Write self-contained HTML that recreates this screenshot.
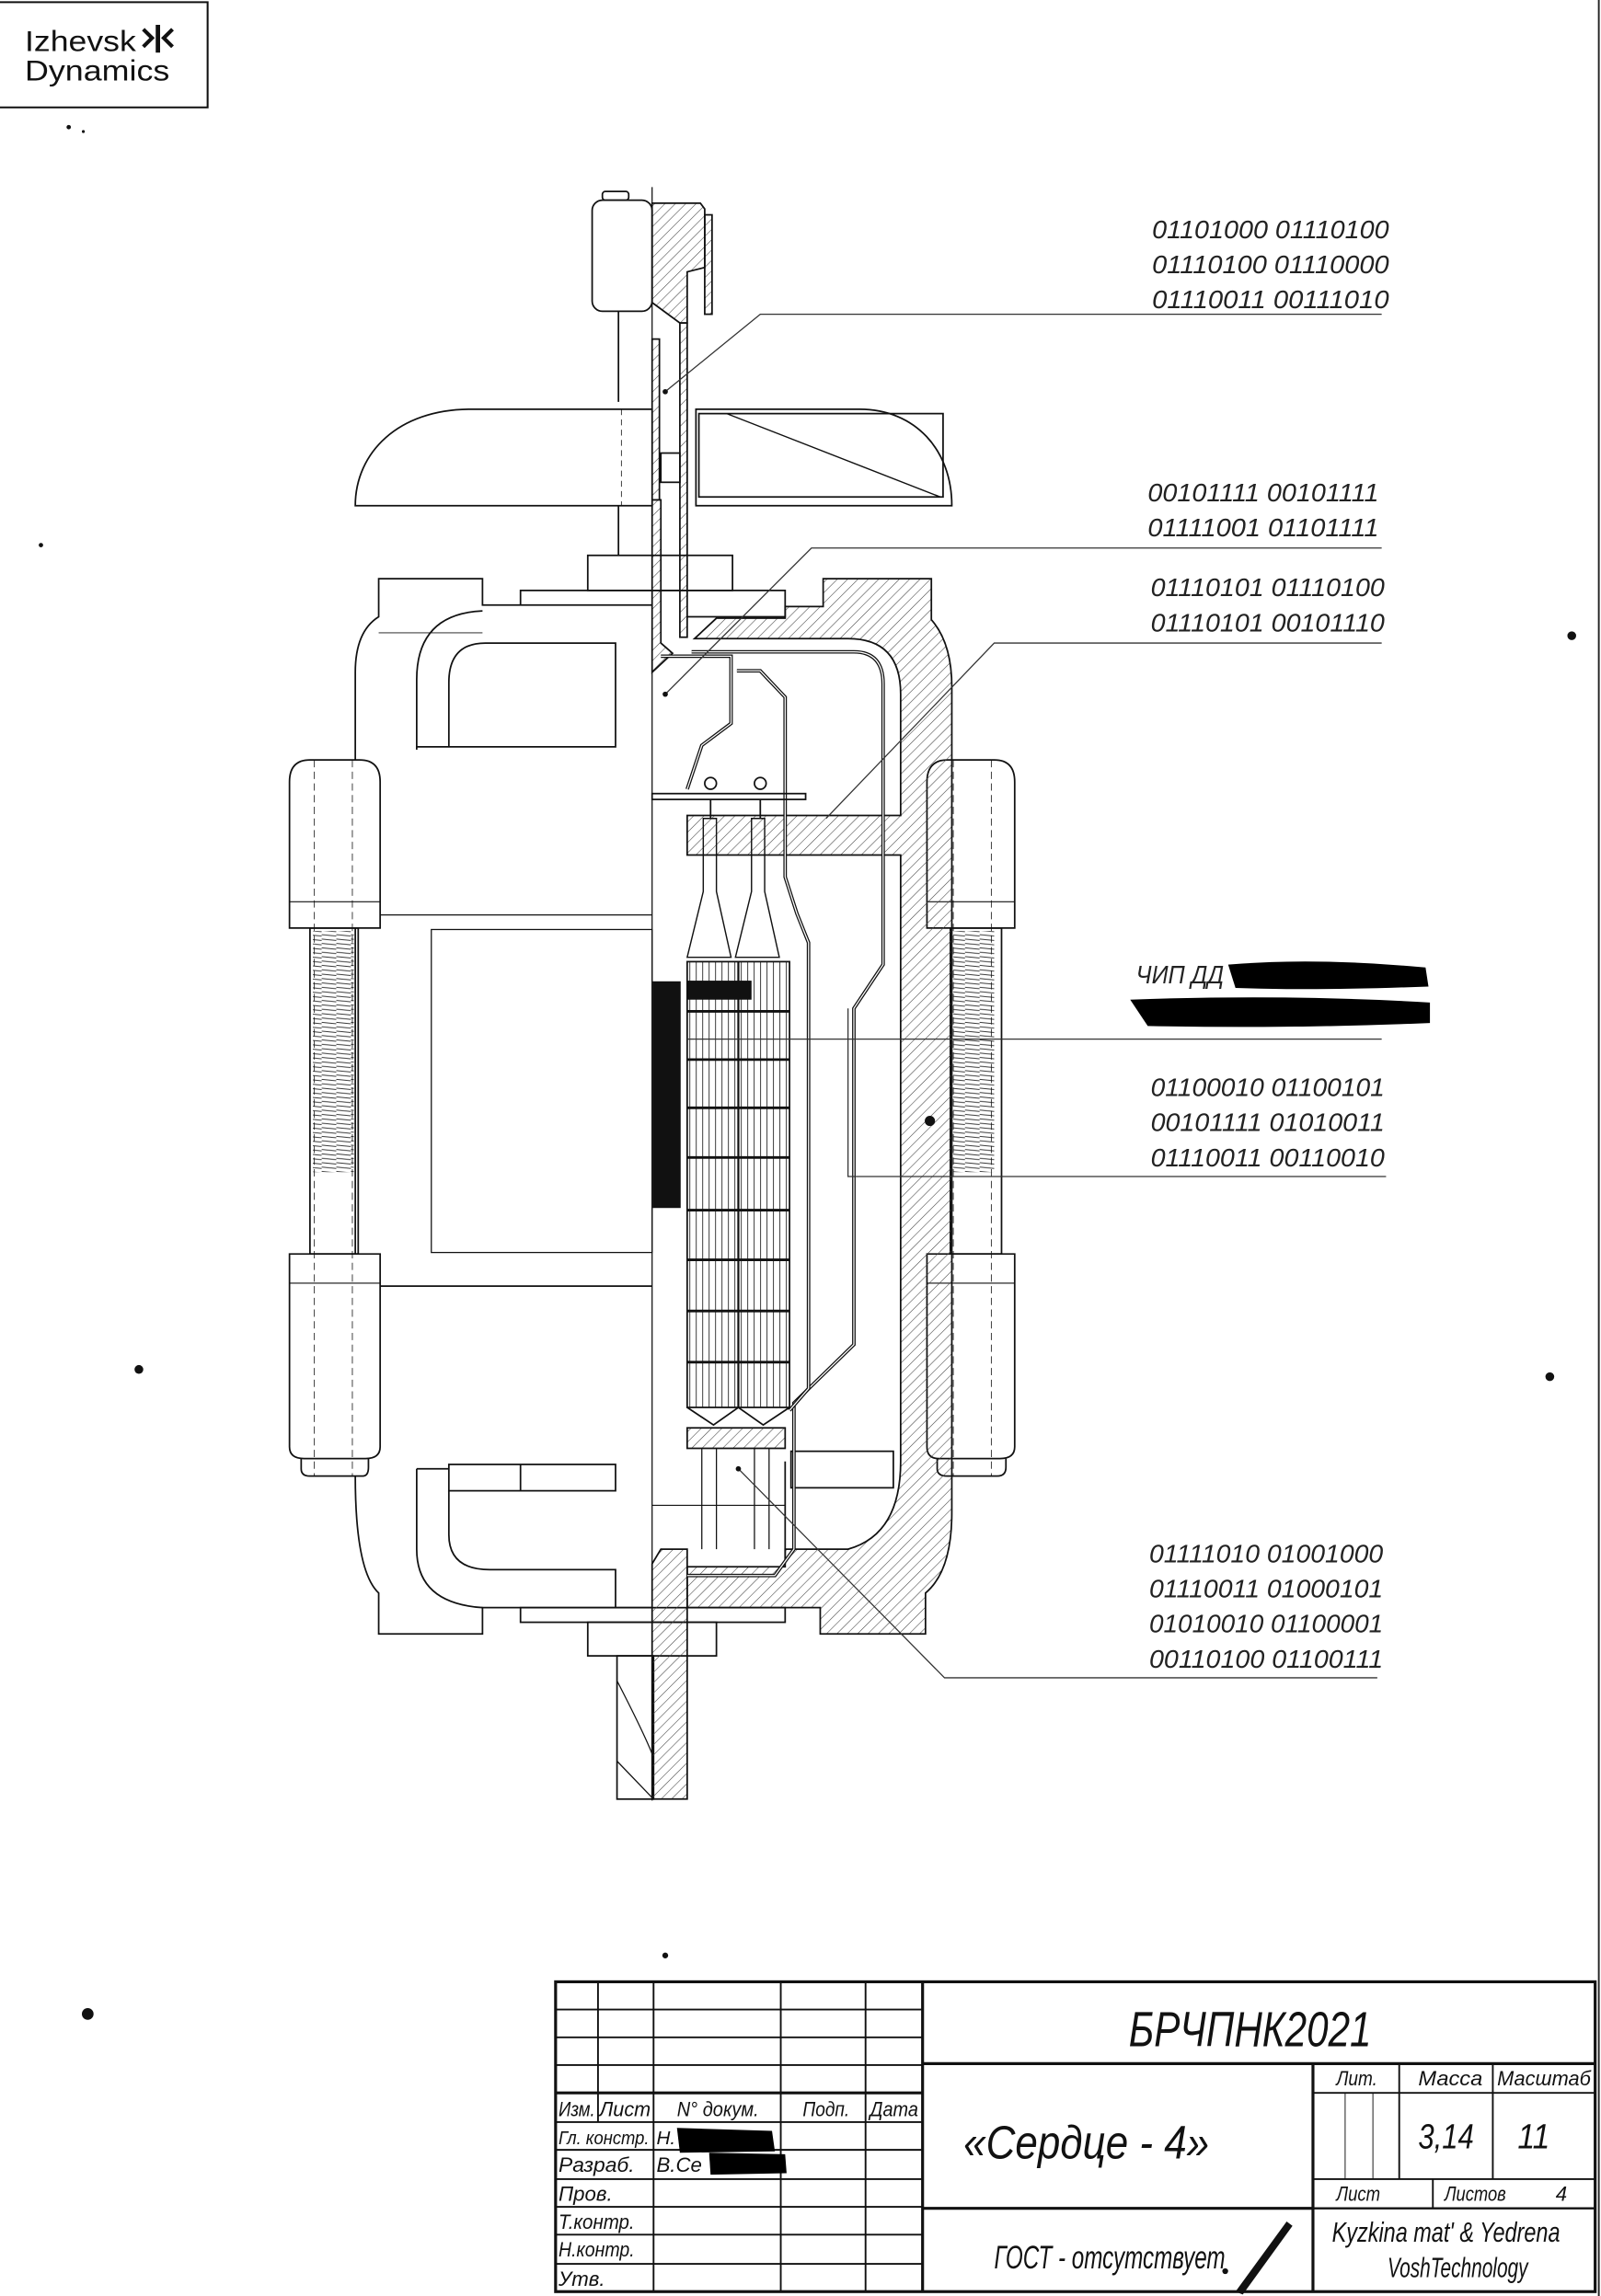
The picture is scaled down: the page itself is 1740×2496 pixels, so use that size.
<!DOCTYPE html>
<html><head><meta charset="utf-8"><style>
html,body{margin:0;padding:0;background:#fff;width:1740px;height:2496px;overflow:hidden}
svg{display:block}
.t{font-family:"Liberation Sans",sans-serif;font-style:italic;fill:#222}
.c{font-family:"Liberation Sans","DejaVu Sans",sans-serif;font-style:italic;fill:#111}
</style></head><body>
<svg width="1740" height="2496" viewBox="0 0 1095 1571" preserveAspectRatio="none" xmlns="http://www.w3.org/2000/svg">
<defs>
<pattern id="h" patternUnits="userSpaceOnUse" width="5" height="5" patternTransform="rotate(45)"><line x1="0" y1="0" x2="0" y2="5" stroke="#444" stroke-width="0.7"/></pattern>
<pattern id="v" patternUnits="userSpaceOnUse" width="4.4" height="10"><line x1="1" y1="0" x2="1" y2="10" stroke="#333" stroke-width="0.6"/></pattern>
<pattern id="th" patternUnits="userSpaceOnUse" width="10" height="3"><line x1="0" y1="0.5" x2="10" y2="1.5" stroke="#333" stroke-width="0.6"/></pattern>
</defs>
<rect width="1095" height="1571" fill="#fff"/>
<line x1="1093.5" y1="0" x2="1093.5" y2="1571" stroke="#222" stroke-width="1.2"/>
<!-- logo -->
<polyline points="0,1.5 142,1.5 142,73.5 0,73.5" fill="none" stroke="#111" stroke-width="1.3"/>
<text x="17" y="35" font-family="Liberation Sans,sans-serif" font-size="20" fill="#111" textLength="76" lengthAdjust="spacingAndGlyphs">Izhevsk</text>
<text x="17" y="55" font-family="Liberation Sans,sans-serif" font-size="20" fill="#111" textLength="99" lengthAdjust="spacingAndGlyphs">Dynamics</text>
<path d="M98,20 L104,26 L98,32 M118,20 L112,26 L118,32" fill="none" stroke="#111" stroke-width="2.6"/>
<rect x="106.5" y="17" width="3" height="19" fill="#111"/>

<g fill="none" stroke="#111" stroke-width="1.1">
<line x1="446" y1="128" x2="446" y2="1232" stroke-width="0.8"/>
<rect x="405" y="137" width="41" height="76" rx="7"/>
<rect x="412" y="131" width="18" height="6" rx="2"/>
<path d="M446,139 L479,139 L482,143 L482,183 L470,186 L470,221 L465,221 L446,207 Z" fill="url(#h)"/>
<rect x="482" y="147" width="5" height="68" fill="url(#h)"/>
<line x1="423" y1="213" x2="423" y2="275"/>
<rect x="465" y="221" width="5" height="215" fill="url(#h)"/>
<rect x="446" y="232" width="5" height="110" fill="url(#h)"/>
<path d="M446,342 L452,342 L452,440 L460,447 L446,460 Z" fill="url(#h)"/>
<rect x="452" y="310" width="13" height="20"/>
<path d="M243,346 C243,310 272,280 322,280 L446,280 L446,346 Z" fill="#fff"/>
<path d="M476,280 L588,280 C626,280 651,308 651,346 L476,346 Z" fill="#fff"/>
<path d="M478,283 L645,283 L645,340 L478,340 Z"/>
<line x1="497" y1="283" x2="643" y2="340" stroke-width="0.9"/>
<line x1="423" y1="346" x2="423" y2="380"/>
<line x1="425" y1="280" x2="425" y2="346" stroke-dasharray="4,3" stroke-width="0.5"/>
<rect x="402" y="380" width="99" height="24"/>
<path d="M356,414 L356,404 L537,404 L537,422 L470,422"/>
<path d="M243,520 L243,460 Q243,432 259,422 L259,396 L330,396 L330,414 L446,414"/>
<path d="M243,635 L243,858"/>
<path d="M243,1010 Q243,1075 259,1090 L259,1118 L330,1118 L330,1100 L446,1100"/>
<path d="M285,513 L285,465 Q285,420 330,418"/>
<path d="M307,511 L307,467 Q307,440 332,440 L421,440 L421,511 L285,511"/>
<line x1="259" y1="433" x2="330" y2="433" stroke-width="0.6"/>
<line x1="259" y1="626" x2="446" y2="626" stroke-width="0.8"/>
<rect x="295" y="636" width="151" height="221" stroke-width="0.8"/>
<line x1="259" y1="880" x2="446" y2="880"/>
<path d="M285,1005 L285,1060 Q285,1097 330,1100"/>
<path d="M307,1002 L421,1002 L421,1020 L307,1020 Z M356,1002 L356,1020"/>
<path d="M307,1020 L307,1050 Q307,1074 335,1074 L421,1074 L421,1100"/>
<line x1="285" y1="1005" x2="307" y2="1005"/>
<rect x="356" y="1100" width="181" height="10"/>
<rect x="402" y="1110" width="88" height="23"/>
<rect x="422" y="1133" width="25" height="98"/>
<path d="M422,1150 Q440,1185 446,1200 M422,1205 L446,1230" stroke-width="0.8"/>
<path d="M446,1070 L452,1060 L470,1060 L470,1231 L446,1231 Z" fill="url(#h)"/>
<path d="M198,635 L198,535 Q198,520 212,520 L246,520 Q260,520 260,535 L260,635 Z" fill="#fff"/>
<line x1="198" y1="617" x2="260" y2="617" stroke-width="0.7"/>
<path d="M634,635 L634,535 Q634,520 648,520 L680,520 Q694,520 694,535 L694,635 Z" fill="#fff"/>
<line x1="634" y1="617" x2="694" y2="617" stroke-width="0.7"/>
<rect x="212" y="635" width="33" height="223"/>
<rect x="214" y="637" width="28" height="165" fill="url(#th)" stroke="none"/>
<rect x="650" y="635" width="35" height="223"/>
<rect x="652" y="637" width="28" height="165" fill="url(#th)" stroke="none"/>
<path d="M198,858 L260,858 L260,990 Q260,998 250,998 L208,998 Q198,998 198,990 Z" fill="#fff"/>
<line x1="198" y1="878" x2="260" y2="878" stroke-width="0.7"/>
<path d="M206,998 L206,1005 Q206,1010 212,1010 L248,1010 Q252,1010 252,1004 L252,998"/>
<path d="M634,858 L694,858 L694,990 Q694,998 684,998 L642,998 Q634,998 634,990 Z" fill="#fff"/>
<line x1="634" y1="878" x2="694" y2="878" stroke-width="0.7"/>
<path d="M641,998 L641,1005 Q641,1010 648,1010 L682,1010 Q688,1010 688,1004 L688,998"/>
<g stroke-dasharray="5,3" stroke-width="0.5"><line x1="215" y1="520" x2="215" y2="1010"/><line x1="241" y1="520" x2="241" y2="1010"/><line x1="652" y1="520" x2="652" y2="1010"/><line x1="678" y1="520" x2="678" y2="1010"/></g>
<path d="M537,422 L537,415 L563,415 L563,396 L637,396 L637,424 Q651,440 651,470 L651,1035 Q651,1075 633,1090 L633,1118 L561,1118 L561,1100 L470,1100 L470,1072 L537,1072 L537,1060 L580,1060 Q616,1050 616,1000 L616,585 L470,585 L470,558 L616,558 L616,475 Q616,437 580,437 L475,437 L490,423 L537,423 Z" fill="url(#h)"/>
<rect x="470" y="977" width="67" height="14" fill="url(#h)"/>
<line x1="537" y1="1000" x2="537" y2="1070"/>
<rect x="541" y="993" width="70" height="25"/>
<path d="M473,446 L584,446 Q604,446 604,468 L604,660 L584,690 L584,920 L543,960 L543,1060 L530,1078 L470,1078" stroke-width="2.4"/>
<path d="M473,446 L584,446 Q604,446 604,468 L604,660 L584,690 L584,920 L543,960 L543,1060 L530,1078 L470,1078" stroke="#fff" stroke-width="0.8"/>
<path d="M452,449 L500,449 L500,495 L480,510 L470,540" stroke-width="2.4"/>
<path d="M452,449 L500,449 L500,495 L480,510 L470,540" stroke="#fff" stroke-width="0.8"/>
<path d="M504,459 L520,459 L537,477 L537,600 L545,625 L553,645 L553,950 L540,965" stroke-width="2.4"/>
<path d="M504,459 L520,459 L537,477 L537,600 L545,625 L553,645 L553,950 L540,965" stroke="#fff" stroke-width="0.8"/>
<rect x="446" y="543" width="105" height="4"/>
<circle cx="486" cy="536" r="4"/><circle cx="520" cy="536" r="4"/>
<path d="M481,560 L481,610 L470,655 L500,655 L490,610 L490,560 Z M514,560 L514,610 L503,655 L533,655 L523,610 L523,560 Z" stroke-width="0.9"/>
<line x1="486" y1="547" x2="486" y2="560"/><line x1="520" y1="547" x2="520" y2="560"/>
<rect x="470" y="658" width="70" height="305" fill="url(#v)"/>
<g stroke-width="1.8"><line x1="470" y1="692" x2="540" y2="692"/><line x1="470" y1="725" x2="540" y2="725"/><line x1="470" y1="758" x2="540" y2="758"/><line x1="470" y1="792" x2="540" y2="792"/><line x1="470" y1="828" x2="540" y2="828"/><line x1="470" y1="862" x2="540" y2="862"/><line x1="470" y1="897" x2="540" y2="897"/><line x1="470" y1="932" x2="540" y2="932"/></g>
<line x1="505" y1="658" x2="505" y2="963" stroke-width="1.4"/>
<path d="M470,963 L488,975 L505,963 L522,975 L540,963"/>
<path d="M480,991 L480,1060 M490,991 L490,1060 M516,991 L516,1060 M526,991 L526,1060" stroke-width="0.8"/>
<line x1="446" y1="1030" x2="537" y2="1030" stroke-width="0.7"/>
<rect x="447" y="672" width="18" height="154" fill="#111"/>
<rect x="470" y="671" width="44" height="13" fill="#111" stroke="none"/>
<g stroke-width="0.8" stroke="#333">
<polyline points="455,268 520,215 945,215"/>
<polyline points="455,475 555,375 945,375"/>
<polyline points="565,560 680,440 945,440"/>
<polyline points="470,711 945,711"/>
<polyline points="580,690 580,805 948,805"/>
<polyline points="505,1005 646,1148 942,1148"/>
</g>
</g>
<circle cx="455" cy="268" r="1.8" fill="#111"/><circle cx="455" cy="475" r="1.8" fill="#111"/><circle cx="505" cy="1005" r="1.8" fill="#111"/>

<g class="t" font-size="17.5">
<text x="788" y="163" textLength="162" lengthAdjust="spacingAndGlyphs">01101000 01110100</text>
<text x="788" y="187" textLength="162" lengthAdjust="spacingAndGlyphs">01110100 01110000</text>
<text x="788" y="211" textLength="162" lengthAdjust="spacingAndGlyphs">01110011 00111010</text>
<text x="785" y="343" textLength="158" lengthAdjust="spacingAndGlyphs">00101111 00101111</text>
<text x="785" y="367" textLength="158" lengthAdjust="spacingAndGlyphs">01111001 01101111</text>
<text x="787" y="408" textLength="160" lengthAdjust="spacingAndGlyphs">01110101 01110100</text>
<text x="787" y="432" textLength="160" lengthAdjust="spacingAndGlyphs">01110101 00101110</text>
<text x="777" y="673" textLength="60" lengthAdjust="spacingAndGlyphs">ЧИП ДД</text>
<text x="787" y="750" textLength="160" lengthAdjust="spacingAndGlyphs">01100010 01100101</text>
<text x="787" y="774" textLength="160" lengthAdjust="spacingAndGlyphs">00101111 01010011</text>
<text x="787" y="798" textLength="160" lengthAdjust="spacingAndGlyphs">01110011 00110010</text>
<text x="786" y="1069" textLength="160" lengthAdjust="spacingAndGlyphs">01111010 01001000</text>
<text x="786" y="1093" textLength="160" lengthAdjust="spacingAndGlyphs">01110011 01000101</text>
<text x="786" y="1117" textLength="160" lengthAdjust="spacingAndGlyphs">01010010 01100001</text>
<text x="786" y="1141" textLength="160" lengthAdjust="spacingAndGlyphs">00110100 01100111</text>
</g>
<path d="M840,660 Q900,655 975,662 L977,675 Q900,678 845,676 Z" fill="#000"/>
<path d="M773,684 Q880,680 978,686 L978,700 Q880,704 785,702 Z" fill="#000"/>

<g fill="none" stroke="#111">
<rect x="380" y="1356" width="711" height="212" stroke-width="2"/>
<line x1="631" y1="1356" x2="631" y2="1568" stroke-width="2"/>
<line x1="380" y1="1432" x2="631" y2="1432" stroke-width="2"/>
<line x1="631" y1="1412" x2="1091" y2="1412" stroke-width="2"/>
<line x1="631" y1="1511" x2="898" y2="1511" stroke-width="2"/>
<line x1="898" y1="1412" x2="898" y2="1568" stroke-width="2"/>
<line x1="898" y1="1511" x2="1091" y2="1511" stroke-width="1.5"/>
<g stroke-width="1.2">
<line x1="409" y1="1356" x2="409" y2="1452"/>
<line x1="447" y1="1356" x2="447" y2="1568"/>
<line x1="534" y1="1356" x2="534" y2="1568"/>
<line x1="592" y1="1356" x2="592" y2="1568"/>
<line x1="380" y1="1375" x2="631" y2="1375"/><line x1="380" y1="1394" x2="631" y2="1394"/><line x1="380" y1="1413" x2="631" y2="1413"/>
<line x1="380" y1="1452" x2="631" y2="1452"/><line x1="380" y1="1471" x2="631" y2="1471"/><line x1="380" y1="1491" x2="631" y2="1491"/><line x1="380" y1="1510" x2="631" y2="1510"/><line x1="380" y1="1529" x2="631" y2="1529"/><line x1="380" y1="1549" x2="631" y2="1549"/>
<line x1="898" y1="1432" x2="1091" y2="1432"/>
<line x1="898" y1="1491" x2="1091" y2="1491"/>
<line x1="957" y1="1412" x2="957" y2="1491"/>
<line x1="1021" y1="1412" x2="1021" y2="1491"/>
<line x1="980" y1="1491" x2="980" y2="1511"/>
<line x1="920" y1="1432" x2="920" y2="1491" stroke-width="0.6"/>
<line x1="939" y1="1432" x2="939" y2="1491" stroke-width="0.6"/>
</g></g>
<g class="c">
<text x="382" y="1448" font-size="14" textLength="25" lengthAdjust="spacingAndGlyphs">Изм.</text>
<text x="410" y="1448" font-size="14" textLength="35" lengthAdjust="spacingAndGlyphs">Лист</text>
<text x="463" y="1448" font-size="14" textLength="56" lengthAdjust="spacingAndGlyphs">N° докум.</text>
<text x="549" y="1448" font-size="14" textLength="32" lengthAdjust="spacingAndGlyphs">Подп.</text>
<text x="595" y="1448" font-size="14" textLength="33" lengthAdjust="spacingAndGlyphs">Дата</text>
<text x="382" y="1467" font-size="13" textLength="62" lengthAdjust="spacingAndGlyphs">Гл. констр.</text>
<text x="449" y="1467" font-size="13">Н.</text>
<text x="382" y="1486" font-size="14" textLength="52" lengthAdjust="spacingAndGlyphs">Разраб.</text>
<text x="449" y="1486" font-size="14">В.Се</text>
<text x="382" y="1506" font-size="14">Пров.</text>
<text x="382" y="1525" font-size="14" textLength="52" lengthAdjust="spacingAndGlyphs">Т.контр.</text>
<text x="382" y="1544" font-size="14" textLength="52" lengthAdjust="spacingAndGlyphs">Н.контр.</text>
<text x="382" y="1564" font-size="14">Утв.</text>
<text x="772" y="1400" font-size="34" textLength="166" lengthAdjust="spacingAndGlyphs">БРЧПНК2021</text>
<text x="659" y="1477" font-size="32" textLength="168" lengthAdjust="spacingAndGlyphs">«Сердце - 4»</text>
<text x="680" y="1552" font-size="22" textLength="158" lengthAdjust="spacingAndGlyphs">ГОСТ - отсутствует</text>
<text x="914" y="1427" font-size="14" textLength="28" lengthAdjust="spacingAndGlyphs">Лит.</text>
<text x="970" y="1427" font-size="14" textLength="44" lengthAdjust="spacingAndGlyphs">Масса</text>
<text x="1024" y="1427" font-size="14" textLength="64" lengthAdjust="spacingAndGlyphs">Масштаб</text>
<text x="970" y="1470" font-size="24" textLength="38" lengthAdjust="spacingAndGlyphs">3,14</text>
<text x="1038" y="1470" font-size="24" textLength="22" lengthAdjust="spacingAndGlyphs">11</text>
<text x="914" y="1506" font-size="14" textLength="30" lengthAdjust="spacingAndGlyphs">Лист</text>
<text x="988" y="1506" font-size="14" textLength="42" lengthAdjust="spacingAndGlyphs">Листов</text>
<text x="1064" y="1506" font-size="14">4</text>
<text x="911" y="1534" font-size="19" textLength="156" lengthAdjust="spacingAndGlyphs">Kyzkina mat' &amp; Yedrena</text>
<text x="949" y="1558" font-size="19" textLength="96" lengthAdjust="spacingAndGlyphs">VoshTechnology</text>
</g>
<path d="M463,1456 L528,1458 L530,1472 L465,1473 Z" fill="#000"/>
<path d="M485,1473 L537,1474 L538,1487 L486,1488 Z" fill="#000"/>
<g fill="#111">
<circle cx="47" cy="87" r="1.5"/><circle cx="57" cy="90" r="1"/><circle cx="95" cy="937" r="3"/><circle cx="636" cy="767" r="3.5"/><circle cx="1075" cy="435" r="3"/><circle cx="1060" cy="942" r="3"/><circle cx="60" cy="1378" r="4"/><circle cx="455" cy="1338" r="2"/><circle cx="28" cy="373" r="1.5"/><circle cx="838" cy="1554" r="2"/><path d="M845,1568 L880,1520 L884,1523 L850,1570 Z"/>
</g>
</svg>
</body></html>
